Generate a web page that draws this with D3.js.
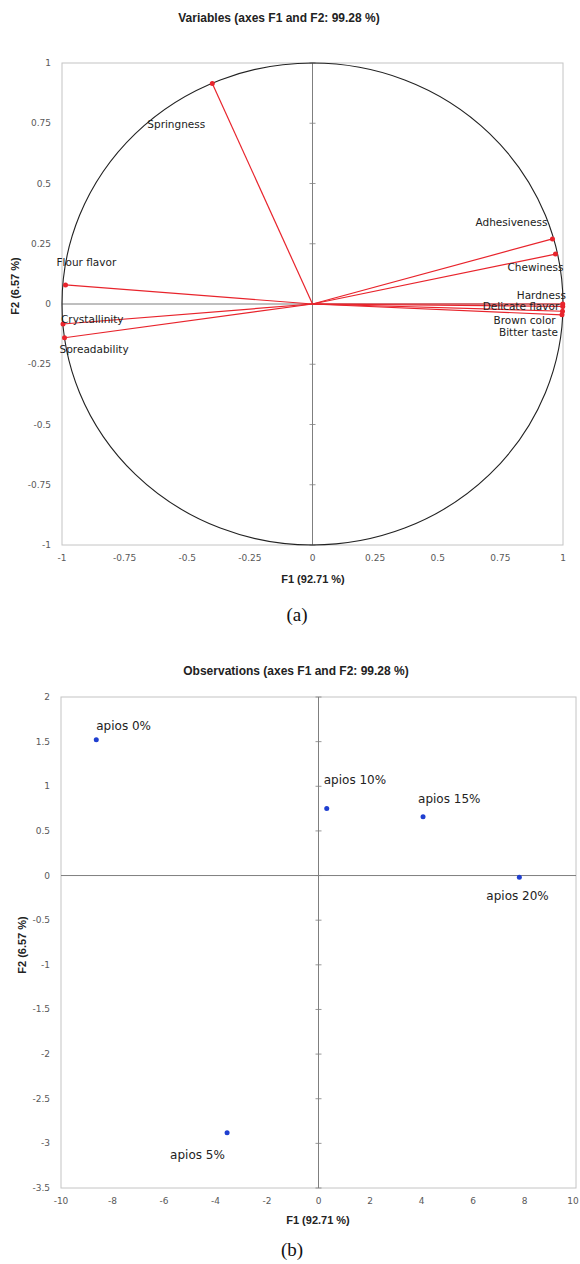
<!DOCTYPE html>
<html>
<head>
<meta charset="utf-8">
<script src="https://cdn.jsdelivr.net/npm/d3@7"></script>
<style>
  body { margin: 0; background: #fff; }
  text { font-family: "DejaVu Sans", sans-serif; }
</style>
</head>
<body>
<div id="chart"></div>
<script>
// variables plot (correlation circle)
var varNames = ["Springness", "Adhesiveness", "Chewiness", "Hardness", "Delicate flavor",
                "Brown color", "Bitter taste", "Flour flavor", "Crystallinity", "Spreadability"];
var varF1 = [-0.40, 0.958, 0.970, 0.999, 0.999, 0.998, 0.996, -0.986, -0.996, -0.990];
var varF2 = [0.915, 0.270, 0.207, 0.000, -0.010, -0.030, -0.045, 0.079, -0.083, -0.140];

// observations plot
var obsNames = ["apios 0%", "apios 5%", "apios 10%", "apios 15%", "apios 20%"];
var obsF1 = [-8.63, -3.55, 0.32, 4.06, 7.80];
var obsF2 = [1.52, -2.88, 0.75, 0.66, -0.02];

var ticksA = [-1, -0.75, -0.5, -0.25, 0, 0.25, 0.5, 0.75, 1];
var ticksBx = [-10, -8, -6, -4, -2, 0, 2, 4, 6, 8, 10];
var ticksBy = [-3.5, -3, -2.5, -2, -1.5, -1, -0.5, 0, 0.5, 1, 1.5, 2];

// label placement (pixel offsets from the point)
var varLabelOff = {
  "Springness": [-65, 41], "Adhesiveness": [-77, -17], "Chewiness": [-48, 13],
  "Hardness": [-46, -9], "Delicate flavor": [-80, 0], "Brown color": [-69, 9],
  "Bitter taste": [-63, 17], "Flour flavor": [-9, -23], "Crystallinity": [-2, -5],
  "Spreadability": [-5, 11]
};
var obsLabelOff = {
  "apios 0%": [0, -14], "apios 5%": [-57, 22], "apios 10%": [-3, -29],
  "apios 15%": [-5, -18], "apios 20%": [-33, 19]
};

var width = 580, height = 1264;
var svg = d3.select("#chart").append("svg")
    .attr("width", width)
    .attr("height", height);
svg.append("rect").attr("width", width).attr("height", height).attr("fill", "#fff");

var tickColor = "#595959", boxColor = "#c4c4c4", axisColor = "#7f7f7f";

/* draw a framed plot with tick labels and center axes */
function frame(x, y, xt, yt, fmt) {
  var g = svg.append("g");
  var x0 = x.range()[0], x1 = x.range()[1], y0 = y.range()[0], y1 = y.range()[1];
  g.append("rect")
      .attr("x", x0).attr("y", y1)
      .attr("width", x1 - x0).attr("height", y0 - y1)
      .attr("fill", "none").attr("stroke", boxColor).attr("stroke-width", 1);
  g.append("line")
      .attr("x1", x0).attr("x2", x1).attr("y1", y(0)).attr("y2", y(0))
      .attr("stroke", axisColor).attr("stroke-width", 1);
  g.append("line")
      .attr("x1", x(0)).attr("x2", x(0)).attr("y1", y1).attr("y2", y0)
      .attr("stroke", axisColor).attr("stroke-width", 1);
  // small ticks on the vertical center axis
  g.selectAll(".ty").data(yt).enter().append("line")
      .attr("x1", x(0) - 3).attr("x2", x(0) + 3)
      .attr("y1", function(d) { return y(d); }).attr("y2", function(d) { return y(d); })
      .attr("stroke", axisColor).attr("stroke-width", 0.8);
  g.selectAll(".lx").data(xt).enter().append("text")
      .attr("x", function(d) { return Math.min(x(d), width - 7); })
      .attr("y", y0 + 16)
      .attr("text-anchor", "middle")
      .attr("font-size", 9).attr("fill", tickColor)
      .text(fmt);
  g.selectAll(".ly").data(yt).enter().append("text")
      .attr("x", x0 - 11)
      .attr("y", function(d) { return y(d) + 3; })
      .attr("text-anchor", "end")
      .attr("font-size", 9).attr("fill", tickColor)
      .text(fmt);
  return g;
}

function titles(title, tx, ty, xcx, xcy, ycx, ycy) {
  svg.append("text").attr("x", tx).attr("y", ty)
      .attr("text-anchor", "middle")
      .style("font-family", "'Liberation Sans', Arial, sans-serif")
      .attr("font-weight", "bold").attr("font-size", 12).attr("fill", "#222")
      .text(title);
  svg.append("text").attr("x", xcx).attr("y", xcy)
      .attr("text-anchor", "middle")
      .style("font-family", "'Liberation Sans', Arial, sans-serif")
      .attr("font-weight", "bold").attr("font-size", 11).attr("fill", "#222")
      .text("F1 (92.71 %)");
  svg.append("text")
      .attr("transform", "translate(" + ycx + "," + ycy + ")rotate(-90)")
      .attr("text-anchor", "middle")
      .style("font-family", "'Liberation Sans', Arial, sans-serif")
      .attr("font-weight", "bold").attr("font-size", 11).attr("fill", "#222")
      .text("F2 (6.57 %)");
}

var fmtNum = function(d) { return String(d); };

/* Part (a): correlation circle */
var xA = d3.scaleLinear().domain([-1, 1]).range([62, 563]);
var yA = d3.scaleLinear().domain([-1, 1]).range([545, 63]);
frame(xA, yA, ticksA, ticksA, fmtNum);
titles("Variables (axes F1 and F2: 99.28 %)", 279, 22, 313, 583, 19, 286);

svg.append("ellipse")
    .attr("cx", xA(0)).attr("cy", yA(0))
    .attr("rx", xA(1) - xA(0)).attr("ry", yA(0) - yA(1))
    .attr("fill", "none").attr("stroke", "#222").attr("stroke-width", 1.1);

var vars = varNames.map(function(n, i) { return { name: n, f1: varF1[i], f2: varF2[i] }; });
var red = "#e8242c";
var gv = svg.append("g");
gv.selectAll("line.v").data(vars).enter().append("line")
    .attr("x1", xA(0)).attr("y1", yA(0))
    .attr("x2", function(d) { return xA(d.f1); })
    .attr("y2", function(d) { return yA(d.f2); })
    .attr("stroke", red).attr("stroke-width", 1.2);
gv.selectAll("circle").data(vars).enter().append("circle")
    .attr("cx", function(d) { return xA(d.f1); })
    .attr("cy", function(d) { return yA(d.f2); })
    .attr("r", 2.5).attr("fill", red);
gv.selectAll("text").data(vars).enter().append("text")
    .attr("x", function(d) { return xA(d.f1) + varLabelOff[d.name][0]; })
    .attr("y", function(d) { return yA(d.f2) + varLabelOff[d.name][1] + 4; })
    .attr("font-size", 10.5).attr("fill", "#222")
    .text(function(d) { return d.name; });

svg.append("text").attr("x", 297).attr("y", 621)
    .attr("text-anchor", "middle")
    .style("font-family", "'Liberation Serif', 'Times New Roman', serif")
    .attr("font-size", 19).attr("fill", "#111")
    .text("(a)");

/* Part (b): observations */
var xB = d3.scaleLinear().domain([-10, 10]).range([61, 576]);
var yB = d3.scaleLinear().domain([-3.5, 2]).range([1188, 697]);
frame(xB, yB, ticksBx, ticksBy, fmtNum);
titles("Observations (axes F1 and F2: 99.28 %)", 296, 675, 318, 1224, 26, 945);

var obs = obsNames.map(function(n, i) { return { name: n, f1: obsF1[i], f2: obsF2[i] }; });
var go = svg.append("g");
go.selectAll("circle").data(obs).enter().append("circle")
    .attr("cx", function(d) { return xB(d.f1); })
    .attr("cy", function(d) { return yB(d.f2); })
    .attr("r", 2.5).attr("fill", "#1f3fd0");
go.selectAll("text").data(obs).enter().append("text")
    .attr("x", function(d) { return xB(d.f1) + obsLabelOff[d.name][0]; })
    .attr("y", function(d) { return yB(d.f2) + obsLabelOff[d.name][1] + 4; })
    .attr("font-size", 12).attr("fill", "#222")
    .text(function(d) { return d.name; });

svg.append("text").attr("x", 292).attr("y", 1256)
    .attr("text-anchor", "middle")
    .style("font-family", "'Liberation Serif', 'Times New Roman', serif")
    .attr("font-size", 19).attr("fill", "#111")
    .text("(b)");
</script>
</body>
</html>
